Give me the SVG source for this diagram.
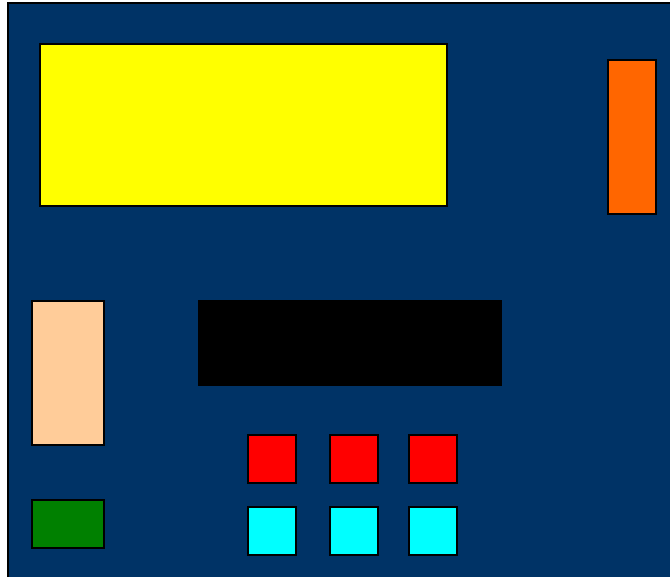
<svg xmlns="http://www.w3.org/2000/svg" width="670" height="577" viewBox="0 0 670 577">
<style>
rect{stroke:#000;stroke-width:2}
</style>
<rect x="8" y="3" width="670" height="580" fill="#003366"/>
<g id="yellow"><rect x="40" y="44" width="407" height="162" fill="#ffff00"/></g>
<g id="orange"><rect x="608" y="60" width="48" height="154" fill="#ff6600"/></g>
<g id="peach"><rect x="32" y="301" width="72" height="144" fill="#ffcc99"/></g>
<g id="black"><rect x="199" y="301" width="302" height="84" fill="#000000"/></g>
<g id="green"><rect x="32" y="500" width="72" height="48" fill="#008000"/></g>
<g id="red1"><rect x="248" y="435" width="48" height="48" fill="#ff0000"/></g>
<g id="red2"><rect x="330" y="435" width="48" height="48" fill="#ff0000"/></g>
<g id="red3"><rect x="409" y="435" width="48" height="48" fill="#ff0000"/></g>
<g id="cyan1"><rect x="248" y="507" width="48" height="48" fill="#00ffff"/></g>
<g id="cyan2"><rect x="330" y="507" width="48" height="48" fill="#00ffff"/></g>
<g id="cyan3"><rect x="409" y="507" width="48" height="48" fill="#00ffff"/></g>
<g id="connectors"></g>
</svg>
